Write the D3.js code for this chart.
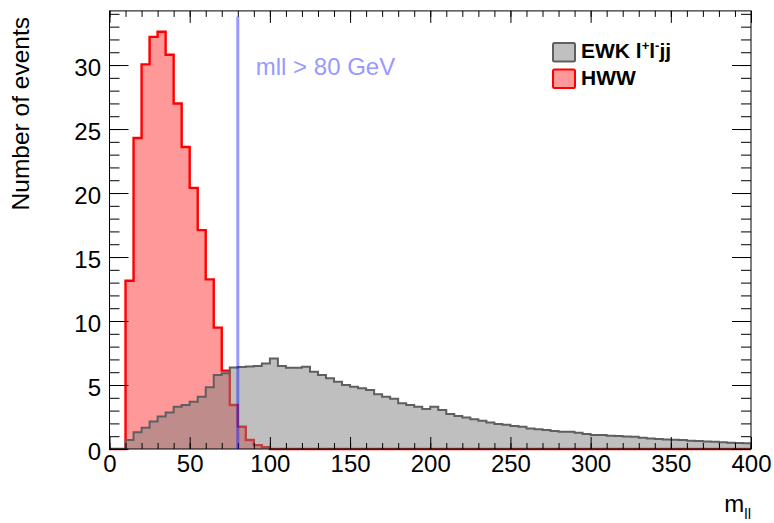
<!DOCTYPE html>
<html>
<head>
<meta charset="utf-8">
<script src="https://cdn.jsdelivr.net/npm/d3@7"></script>
<style>
  html, body { margin: 0; padding: 0; background: #fff; }
  svg { display: block; font-family: "Liberation Sans", Arial, Helvetica, sans-serif; }
  .tick line { stroke: #000; stroke-width: 1; }
  .tick text { fill: #000; }
</style>
</head>
<body>
<svg id="chart" width="774" height="523"></svg>
<script>
// m_ll histograms, 5 GeV bins from 0 to 400 GeV
const binWidth = 5;
const xRange = [0, 400];
const binLow = d3.range(xRange[0], xRange[1], binWidth);

// Expected events per bin, HWW signal
const hwwCounts = [
  0, 0, 13.15, 24.3, 30.05, 32.2, 32.6, 30.8, 27.0, 23.6,
  20.4, 17.1, 13.25, 9.48, 6.12, 3.44, 1.74, 0.70, 0.30, 0.15,
  0, 0, 0, 0, 0, 0, 0, 0, 0, 0,
  0, 0, 0, 0, 0, 0, 0, 0, 0, 0,
  0, 0, 0, 0, 0, 0, 0, 0, 0, 0,
  0, 0, 0, 0, 0, 0, 0, 0, 0, 0,
  0, 0, 0, 0, 0, 0, 0, 0, 0, 0,
  0, 0, 0, 0, 0, 0, 0, 0, 0, 0
];

// Expected events per bin, electroweak l+l-jj background
const ewkCounts = [
  0, 0, 0.70, 1.30, 1.67, 2.14, 2.53, 2.86, 3.31, 3.44,
  3.70, 4.09, 4.82, 5.78, 5.91, 6.36, 6.40, 6.45, 6.48, 6.69,
  7.08, 6.48, 6.35, 6.35, 6.43, 6.04, 5.78, 5.52, 5.26, 5.00,
  4.87, 4.74, 4.61, 4.27, 4.09, 3.93, 3.57, 3.44, 3.31, 3.13,
  3.31, 3.05, 2.73, 2.58, 2.47, 2.32, 2.21, 2.08, 1.95, 1.90,
  1.80, 1.74, 1.61, 1.54, 1.48, 1.41, 1.35, 1.35, 1.27, 1.17,
  1.09, 1.09, 1.04, 1.02, 0.98, 0.96, 0.88, 0.83, 0.78, 0.75,
  0.72, 0.70, 0.65, 0.62, 0.59, 0.57, 0.52, 0.49, 0.46, 0.44
];

const xMajorTicks = [0, 50, 100, 150, 200, 250, 300, 350, 400];
const xMinorTicks = d3.range(0, 401, 10);
const yMajorTicks = [0, 5, 10, 15, 20, 25, 30];
const yMinorTicks = d3.range(0, 35, 1);

const cutValue = 80;
const cutLabel = "mll > 80 GeV";
const yTitle = "Number of events";

const svg = d3.select("#chart");
const frame = { left: 109.5, right: 751, top: 10.9, bottom: 449 };
const yMax = d3.max(hwwCounts) * 1.05;
const fontFamily = "Liberation Sans, Arial, sans-serif";

const x = d3.scaleLinear().domain(xRange).range([frame.left, frame.right]);
const y = d3.scaleLinear().domain([0, yMax]).range([frame.bottom, frame.top]);

// Closed step outline of a histogram
function stepPath(counts) {
  const p = d3.path();
  p.moveTo(x(xRange[0]), y(0));
  counts.forEach((v, i) => {
    p.lineTo(x(binLow[i]), y(v));
    p.lineTo(x(binLow[i] + binWidth), y(v));
  });
  p.lineTo(x(xRange[1]), y(0));
  return p.toString();
}

const plot = svg.append("g");

// HWW signal
plot.append("path")
  .attr("d", stepPath(hwwCounts) + "Z")
  .attr("fill", "#ff9999")
  .attr("stroke", "none");
plot.append("path")
  .attr("d", stepPath(hwwCounts))
  .attr("fill", "none")
  .attr("stroke", "#ff0000")
  .attr("stroke-width", 2.4);

// EWK background, translucent grey drawn over the signal
plot.append("path")
  .attr("d", stepPath(ewkCounts) + "Z")
  .attr("fill", "rgba(128,128,128,0.5)")
  .attr("stroke", "none");
plot.append("path")
  .attr("d", stepPath(ewkCounts))
  .attr("fill", "none")
  .attr("stroke", "#5f5f5f")
  .attr("stroke-width", 2);

// Axes with inward ticks on all four sides
function styleAxis(g) { g.select(".domain").remove(); }

svg.append("g").attr("transform", `translate(0,${frame.bottom})`)
  .call(d3.axisBottom(x).tickValues(xMinorTicks).tickSize(-6).tickFormat(""))
  .call(styleAxis);
svg.append("g").attr("transform", `translate(0,${frame.bottom})`)
  .call(d3.axisBottom(x).tickValues(xMajorTicks).tickSize(-12).tickPadding(6).tickFormat(d3.format("d")))
  .call(styleAxis)
  .call(g => g.selectAll("text").attr("font-size", 24).attr("font-family", fontFamily));
svg.append("g").attr("transform", `translate(0,${frame.top})`)
  .call(d3.axisTop(x).tickValues(xMinorTicks).tickSize(-6).tickFormat(""))
  .call(styleAxis);
svg.append("g").attr("transform", `translate(0,${frame.top})`)
  .call(d3.axisTop(x).tickValues(xMajorTicks).tickSize(-12).tickFormat(""))
  .call(styleAxis);

svg.append("g").attr("transform", `translate(${frame.left},0)`)
  .call(d3.axisLeft(y).tickValues(yMinorTicks).tickSize(-10).tickFormat(""))
  .call(styleAxis);
svg.append("g").attr("transform", `translate(${frame.left},0)`)
  .call(d3.axisLeft(y).tickValues(yMajorTicks).tickSize(-19).tickPadding(8.5).tickFormat(d3.format("d")))
  .call(styleAxis)
  .call(g => g.selectAll("text").attr("font-size", 24).attr("dy", "0.42em").attr("font-family", fontFamily));
svg.append("g").attr("transform", `translate(${frame.right},0)`)
  .call(d3.axisRight(y).tickValues(yMinorTicks).tickSize(-10).tickFormat(""))
  .call(styleAxis);
svg.append("g").attr("transform", `translate(${frame.right},0)`)
  .call(d3.axisRight(y).tickValues(yMajorTicks).tickSize(-19).tickFormat(""))
  .call(styleAxis);

// Frame
svg.append("rect")
  .attr("x", frame.left).attr("y", frame.top)
  .attr("width", frame.right - frame.left).attr("height", frame.bottom - frame.top)
  .attr("fill", "none").attr("stroke", "#000").attr("stroke-width", 1);

// Selection cut line
svg.append("line")
  .attr("x1", x(cutValue)).attr("x2", x(cutValue))
  .attr("y1", y(0)).attr("y2", y(33.8))
  .attr("stroke", "rgba(0,0,255,0.4)")
  .attr("stroke-width", 3);
svg.append("text")
  .attr("x", x(cutValue) + 18).attr("y", 75)
  .attr("font-size", 24)
  .attr("fill", "#9999ff")
  .text(cutLabel);

// Axis titles
svg.append("text")
  .attr("transform", `translate(29,17) rotate(-90)`)
  .attr("text-anchor", "end")
  .attr("font-size", 24.5)
  .text(yTitle);

const xt = svg.append("text")
  .attr("x", frame.right).attr("y", 512)
  .attr("text-anchor", "end")
  .attr("font-size", 24);
xt.append("tspan").text("m");
xt.append("tspan").attr("font-size", 15).attr("dy", 7).text("ll");

// Legend
const legendItems = [
  { fill: "#c0c0c0", stroke: "#5f5f5f", label: "EWK" },
  { fill: "#ff9999", stroke: "#ff0000", label: "HWW" }
];
const legend = svg.append("g");
legendItems.forEach((d, i) => {
  const gy = 43 + i * 26.5;
  legend.append("rect")
    .attr("x", 553).attr("y", gy)
    .attr("width", 22).attr("height", 18.5)
    .attr("rx", 1.5)
    .attr("fill", d.fill).attr("stroke", d.stroke).attr("stroke-width", 2);
  const t = legend.append("text")
    .attr("x", 581).attr("y", gy + 15)
    .attr("font-size", 21).attr("font-weight", "bold");
  t.append("tspan").text(d.label);
  if (i === 0) {
    t.append("tspan").text(" l");
    t.append("tspan").attr("font-size", 13).attr("dy", -8).text("+");
    t.append("tspan").attr("dy", 8).text("l");
    t.append("tspan").attr("font-size", 13).attr("dy", -8).text("-");
    t.append("tspan").attr("dy", 8).text("jj");
  }
});
</script>
</body>
</html>
